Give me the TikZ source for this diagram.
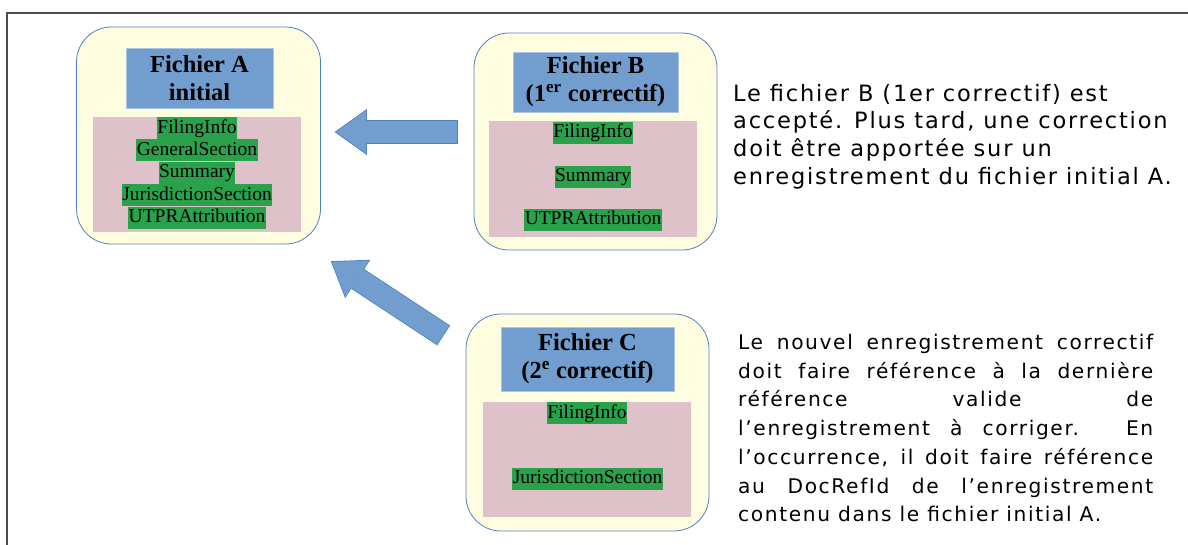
\documentclass[tikz,border=0pt]{standalone}
\usepackage{fontspec}
\setmainfont{Liberation Serif}
\newfontfamily\notefont[LetterSpace=8]{DejaVu Sans}
\usetikzlibrary{positioning,arrows.meta}
\definecolor{cream}{RGB}{255,253,224}
\definecolor{frameblue}{RGB}{79,129,189}
\definecolor{titleblue}{RGB}{114,158,207}
\definecolor{pinkbg}{RGB}{223,193,202}
\definecolor{greenhl}{RGB}{42,161,75}
\tikzset{
  filebox/.style={draw=frameblue, fill=cream, line width=0.8pt, rounded corners=35pt,
    minimum width=243pt, minimum height=217pt},
  titlebox/.style={fill=titleblue, draw=titleblue!60!white, line width=0.6pt, align=center,
    minimum height=60pt, font=\fontsize{24.5}{28}\selectfont\bfseries},
  listbox/.style={fill=pinkbg, minimum width=208pt, minimum height=115pt},
  field/.style={fill=greenhl, inner xsep=0.5pt, inner ysep=0pt, text height=16pt,
    text depth=6pt, font=\fontsize{19.5}{22}\selectfont},
  blockarrow/.style={titleblue, line width=22pt,
    -{Triangle[length=30pt, width=43pt, line width=0pt]},
    preaction={draw=frameblue, line width=23.6pt, shorten >=-1.4pt, shorten <=-0.8pt,
      -{Triangle[length=32.2pt, width=46pt, line width=0pt]}}},
  note/.style={anchor=north west, inner sep=0pt}
}
\begin{document}
\begin{tikzpicture}[x=1pt, y=-1pt]
  \useasboundingbox (0,0) rectangle (1188,544);
  % cadre
  \draw[gray!60!black, line width=1.5pt] (7,560) -- (7,13) -- (1200,13);

  % fichier A
  \node[filebox, minimum width=244pt] (boxA) at (198.5,135.5) {};
  \node[titlebox, minimum width=147pt] (titleA) at (199.5,78) {Fichier A\\initial};
  \node[listbox] (listA) at (197,174.5) {};
  \node[field] (a1) at (197,128) {FilingInfo};
  \node[field, below=0pt of a1] (a2) {GeneralSection};
  \node[field, below=0pt of a2] (a3) {Summary};
  \node[field, below=0pt of a3] (a4) {JurisdictionSection};
  \node[field, below=0pt of a4] (a5) {UTPRAttribution};

  % fichier B
  \node[filebox] (boxB) at (595.5,141.5) {};
  \node[titlebox, minimum width=165pt] (titleB) at (595.5,82) {Fichier B\\(1\textsuperscript{er} correctif)};
  \node[listbox, minimum height=116pt] (listB) at (593,179) {};
  \node[field] (b1) at (593,132.5) {FilingInfo};
  \node[field] (b2) at (593,176.5) {Summary};
  \node[field] (b3) at (593,219.5) {UTPRAttribution};

  % fichier C
  \node[filebox] (boxC) at (587.5,422.5) {};
  \node[titlebox, minimum width=173pt, minimum height=64pt] (titleC) at (587.5,359) {Fichier C\\(2\textsuperscript{e} correctif)};
  \node[listbox] (listC) at (587,459.5) {};
  \node[field] (c1) at (587,413) {FilingInfo};
  \node[field] (c2) at (587.5,478.5) {JurisdictionSection};

  % fleches
  \coordinate (tailB) at (457,132);
  \coordinate (tipB) at (336,132);
  \coordinate (tailC) at (443,335);
  \coordinate (tipC) at (332,262);
  \draw[blockarrow] (tailB) -- (tipB);
  \draw[blockarrow] (tailC) -- (tipC);

  % commentaires
  \node[note, align=left, font=\notefont\fontsize{22.5}{27.7}\selectfont] (noteB) at (733,84) {Le fichier B (1er correctif) est\\
    accepté. Plus tard, une correction\\doit être apportée sur un\\
    enregistrement du fichier initial A.};
  \node[note, text width=415pt, align=justify, font=\notefont\fontsize{20.2}{28.7}\selectfont] (noteC) at (738,334) {Le nouvel
    enregistrement correctif\linebreak doit faire référence à la dernière\linebreak
    référence valide de\linebreak l’enregistrement à corriger. En\linebreak
    l’occurrence, il doit faire référence\linebreak au DocRefId de l’enregistrement\linebreak
    contenu dans le fichier initial A.};
\end{tikzpicture}
\end{document}
